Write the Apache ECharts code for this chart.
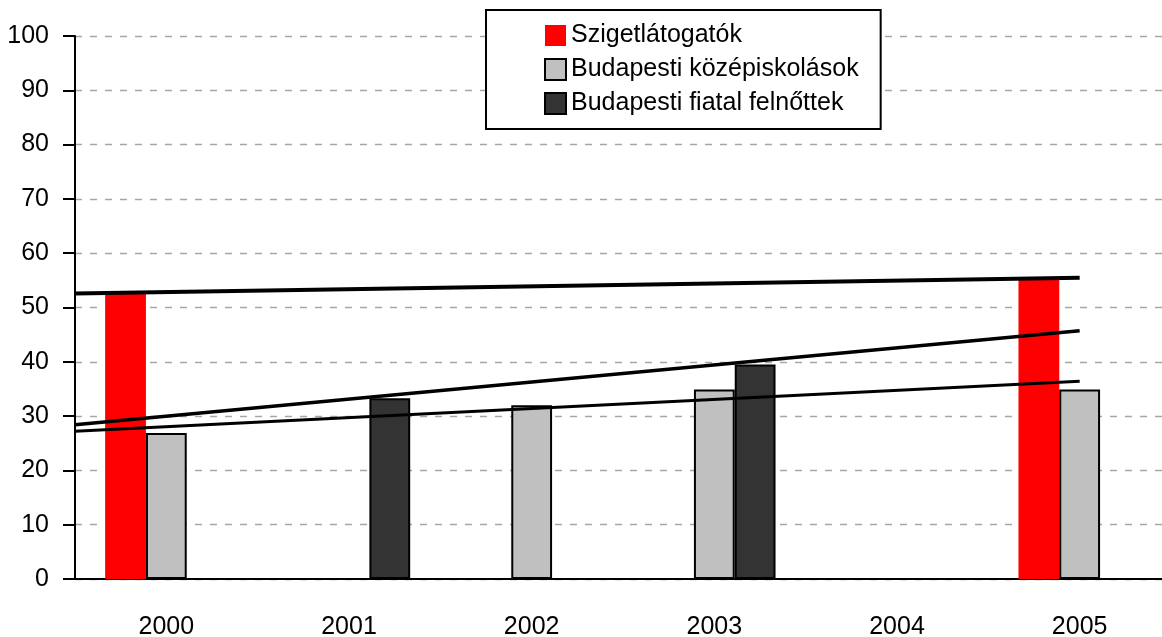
<!DOCTYPE html>
<html>
<head>
<meta charset="utf-8">
<script src="https://cdn.jsdelivr.net/npm/echarts@6/dist/echarts.min.js"></script>
<style>
  html, body { margin: 0; padding: 0; overflow: hidden; background: #fff; }
  #chart { width: 1172px; height: 637px; }
</style>
</head>
<body>
<div id="chart"></div>
<script>
  // evek
  const years = ['2000', '2001', '2002', '2003', '2004', '2005']
  const yTicks = [0, 10, 20, 30, 40, 50, 60, 70, 80, 90, 100]

  // oszlopok
  const sziget = [53, null, null, null, null, 55.5]
  const kozepiskolas = [26.9, null, 32, 34.9, null, 34.9]
  const fiatalFelnott = [null, 33.3, null, 39.5, null, null]

  // trendvonalak vegpontjai [x (ev indexe), y]
  const szigetTrend = [[-0.5, 52.6], [5, 55.5]]
  const kozepTrend = [[-0.5, 27.2], [5, 36.4]]
  const felnottTrend = [[-0.5, 28.4], [5, 45.7]]

  const font = "'Liberation Sans', Arial, sans-serif"

  const chart = echarts.init(document.getElementById('chart'))

  const trend = (data, w) => ({
    type: 'line',
    xAxisIndex: 1,
    data: data,
    symbol: 'none',
    silent: true,
    lineStyle: { color: '#000', width: w },
    z: 5
  })

  chart.setOption({
    animation: false,
    textStyle: { fontFamily: font },
    grid: { left: 75, top: 36, width: 1096, height: 543, containLabel: false, outerBoundsMode: 'none' },
    legend: {
      data: ['Szigetlátogatók', 'Budapesti középiskolások', 'Budapesti fiatal felnőttek'],
      orient: 'vertical',
      left: 486,
      top: 10,
      padding: [13, 22, 13, 58],
      itemGap: 9,
      itemWidth: 21,
      itemHeight: 21,
      icon: 'rect',
      borderColor: '#000',
      borderWidth: 2,
      backgroundColor: '#fff',
      textStyle: { fontSize: 25, color: '#000', fontFamily: font, lineHeight: 25 }
    },
    xAxis: [{
      type: 'category',
      data: years,
      axisLine: { lineStyle: { color: '#000', width: 2 } },
      axisTick: { length: 11, lineStyle: { color: '#000', width: 2 } },
      axisLabel: { fontSize: 25, color: '#000', margin: 36 }
    }, {
      type: 'value',
      min: -0.5,
      max: 5.5,
      show: false
    }],
    yAxis: {
      type: 'value',
      min: yTicks[0],
      max: yTicks[yTicks.length - 1],
      interval: 10,
      axisLine: { show: true, onZero: false, lineStyle: { color: '#000', width: 2 } },
      axisTick: { show: true, length: 12, lineStyle: { color: '#000', width: 2 } },
      axisLabel: { fontSize: 25, color: '#000', margin: 26 },
      splitLine: { lineStyle: { color: '#a6a6a6', type: [7, 8], width: 1.3 } }
    },
    series: [{
      name: 'Szigetlátogatók',
      type: 'bar',
      data: sziget,
      barGap: '0%',
      barCategoryGap: '33%',
      itemStyle: { color: '#ff0000' }
    }, {
      name: 'Budapesti középiskolások',
      type: 'bar',
      data: kozepiskolas,
      itemStyle: { color: '#c0c0c0', borderColor: '#000', borderWidth: 2 }
    }, {
      name: 'Budapesti fiatal felnőttek',
      type: 'bar',
      data: fiatalFelnott,
      itemStyle: { color: '#333333', borderColor: '#000', borderWidth: 2 }
    },
      trend(szigetTrend, 4),
      trend(kozepTrend, 3),
      trend(felnottTrend, 3.5)
    ]
  })
</script>
</body>
</html>
